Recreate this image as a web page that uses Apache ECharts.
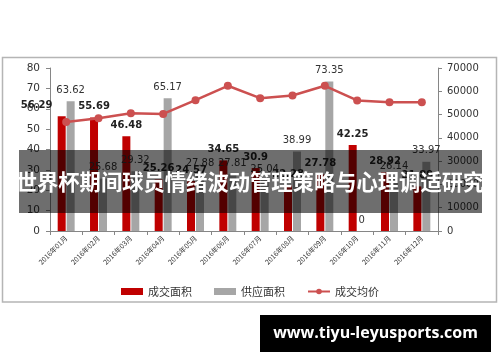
<!DOCTYPE html>
<html><head><meta charset="utf-8">
<script src="https://cdn.jsdelivr.net/npm/echarts@6/dist/echarts.min.js"></script>
<style>html,body{margin:0;padding:0;background:#fff}#c{width:500px;height:362px}</style>
</head><body><div id="c"></div>
<script>
var months = ['2016年01月','2016年02月','2016年03月','2016年04月','2016年05月','2016年06月','2016年07月','2016年08月','2016年09月','2016年10月','2016年11月','2016年12月'];
var dealArea = [56.29,55.69,46.48,25.26,24.57,34.65,30.9,22.28,27.78,42.25,28.92,21.89];
var supplyArea = [63.62,25.68,29.32,65.17,27.88,27.81,25.04,38.99,73.35,0,26.14,33.97];
var avgPrice = [46800,48400,50560,50260,56180,62360,57040,58200,62360,56050,55310,55310];
var leftTicks = {min:0, max:80, interval:10};
var rightTicks = {min:0, max:70000, interval:10000};
var bannerText = '世界杯期间球员情绪波动管理策略与心理调适研究';
var siteText = 'www.tiyu-leyusports.com';

var FONT = "'DejaVu Sans','Noto Sans CJK SC',sans-serif";
var chart = echarts.init(document.getElementById('c'));
var axisLine = {show:true, lineStyle:{color:'#868686', width:1}};
var dealData = dealArea.map(function(v, i){
  return i === 0 ? {value:v, label:{offset:[-25, 0]}} : v;
});
chart.setOption({
  animation:false,
  textStyle:{fontFamily:FONT},
  grid:{left:50, right:62, top:68, bottom:131},
  legend:{
    bottom:60, left:'center', itemGap:22, itemWidth:22, itemHeight:7,
    textStyle:{fontSize:11, color:'#333', fontFamily:"'Noto Sans CJK SC',sans-serif"},
    data:[{name:'成交面积', icon:'rect'},{name:'供应面积', icon:'rect'},{name:'成交均价'}]
  },
  xAxis:{
    type:'category', data:months,
    axisLine:axisLine,
    axisTick:{show:true, alignWithLabel:false, length:4, lineStyle:{color:'#868686'}},
    axisLabel:{rotate:45, fontSize:7, color:'#333', margin:6, fontFamily:"'Noto Sans CJK SC',sans-serif"}
  },
  yAxis:[
    {type:'value', min:leftTicks.min, max:leftTicks.max, interval:leftTicks.interval,
     axisLine:axisLine, axisTick:{show:true, length:4, lineStyle:{color:'#868686'}},
     splitLine:{show:false}, axisLabel:{fontSize:10.5, color:'#333', margin:10}},
    {type:'value', min:rightTicks.min, max:rightTicks.max, interval:rightTicks.interval,
     axisLine:axisLine, axisTick:{show:true, length:4, lineStyle:{color:'#868686'}},
     splitLine:{show:false}, axisLabel:{fontSize:10, color:'#333', margin:9, formatter:function(v){return String(v);}}}
  ],
  series:[
    {name:'成交面积', type:'bar', data:dealData, barWidth:8, barGap:'12%',
     itemStyle:{color:'#c00000'},
     label:{show:true, position:'top', fontSize:10, fontWeight:'bold', color:'#222', distance:6}},
    {name:'供应面积', type:'bar', data:supplyArea, barWidth:8,
     itemStyle:{color:'#a6a6a6'},
     label:{show:true, position:'top', fontSize:10, color:'#333', distance:6}},
    {name:'成交均价', type:'line', yAxisIndex:1, data:avgPrice,
     symbol:'circle', symbolSize:8,
     lineStyle:{color:'#cc5050', width:2.5}, itemStyle:{color:'#cc5050'}, z:5}
  ],
  graphic:[
    {type:'rect', shape:{x:2.5, y:57.5, width:494, height:244.5}, style:{fill:'none', stroke:'#b5b5b5', lineWidth:1.5}, z:-1},
    {type:'rect', shape:{x:19, y:150, width:463, height:63}, style:{fill:'rgba(0,0,0,0.57)'}, z:100},
    {type:'text', x:250, y:182, z:101, style:{text:bannerText, fill:'#fff', font:"bold 21.3px 'Noto Sans CJK SC',sans-serif", textAlign:'center', textVerticalAlign:'middle'}},
    {type:'rect', shape:{x:260, y:315, width:231, height:37}, style:{fill:'#000'}, z:100},
    {type:'text', x:375.5, y:333.5, z:101, style:{text:siteText, fill:'#fff', font:"bold 16px 'Open Sans','DejaVu Sans',sans-serif", textAlign:'center', textVerticalAlign:'middle'}}
  ]
});
</script></body></html>
